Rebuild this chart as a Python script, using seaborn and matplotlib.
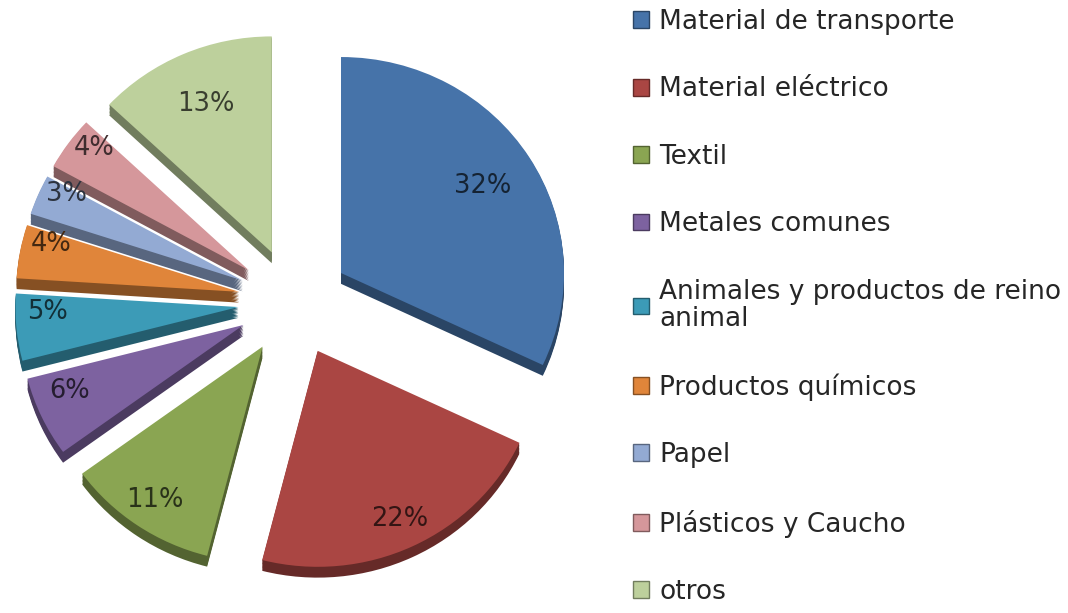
import matplotlib
matplotlib.use("Agg")
import matplotlib.pyplot as plt
from matplotlib.patches import Rectangle
import seaborn as sns
import numpy as np

# Datos
categorias = [
    "Material de transporte", "Material eléctrico", "Textil", "Metales comunes",
    "Animales y productos de reino\nanimal", "Productos químicos", "Papel",
    "Plásticos y Caucho", "otros",
]
porcentajes = [32, 22, 11, 6, 5, 4, 3, 4, 13]
colores = ["#4673A9", "#AA4643", "#8AA552", "#7D62A0", "#3C9BB7",
           "#E0853A", "#93AAD3", "#D5979B", "#BDD09C"]

sns.set_theme(style="white")
plt.rcParams["font.family"] = ["DejaVu Sans"]

paleta = sns.color_palette(colores)
sombra = [tuple(c * 0.6 for c in col) for col in paleta]
texto = [tuple(c * 0.3 for c in col) for col in paleta]

fig = plt.figure(figsize=(10.68, 6.13), dpi=100)
ax = fig.add_axes([0, 0, 1, 1])

explode = [0.25] * len(porcentajes)
prof = 0.05

# cara lateral (efecto 3D)
for off in np.linspace(prof, 0.005, 8):
    ax.pie(porcentajes, colors=sombra, explode=explode, startangle=90,
           counterclock=False, center=(0, -off), wedgeprops=dict(linewidth=0))

wedges, _, autotexts = ax.pie(
    porcentajes, colors=paleta, explode=explode, startangle=90,
    counterclock=False, autopct="%1.0f%%", pctdistance=0.75,
    wedgeprops=dict(linewidth=0), textprops=dict(fontsize=18.5),
)

# etiquetas: las pequeñas y las de abajo más hacia fuera
for w, t, v, c in zip(wedges, autotexts, porcentajes, texto):
    ang = np.deg2rad((w.theta1 + w.theta2) / 2)
    d = 0.75 if (v >= 10 and np.sin(ang) > 0) else 0.86
    x = w.center[0] + d * w.r * np.cos(ang)
    y = w.center[1] + d * w.r * np.sin(ang)
    if v < 10:
        y += 0.06
    t.set_position((x, y))
    t.set_color(c)

ax.set_xlim(-1.318, 3.471)
ax.set_ylim(-1.44, 1.398)
ax.set_aspect("auto")
ax.axis("off")

handles = [Rectangle((0, 0), 1, 1, facecolor=c, edgecolor=s, linewidth=1)
           for c, s in zip(paleta, sombra)]
leg = fig.legend(handles, categorias, loc="upper left",
                 bbox_to_anchor=(633 / 1068, 1 - 9 / 613), frameon=False,
                 fontsize=19, labelspacing=1.57, handlelength=0.6, handleheight=0.6,
                 handletextpad=0.4, borderpad=0, borderaxespad=0)
for t in leg.get_texts():
    t.set_linespacing(1.05)

fig.savefig("out.png", dpi=100)
